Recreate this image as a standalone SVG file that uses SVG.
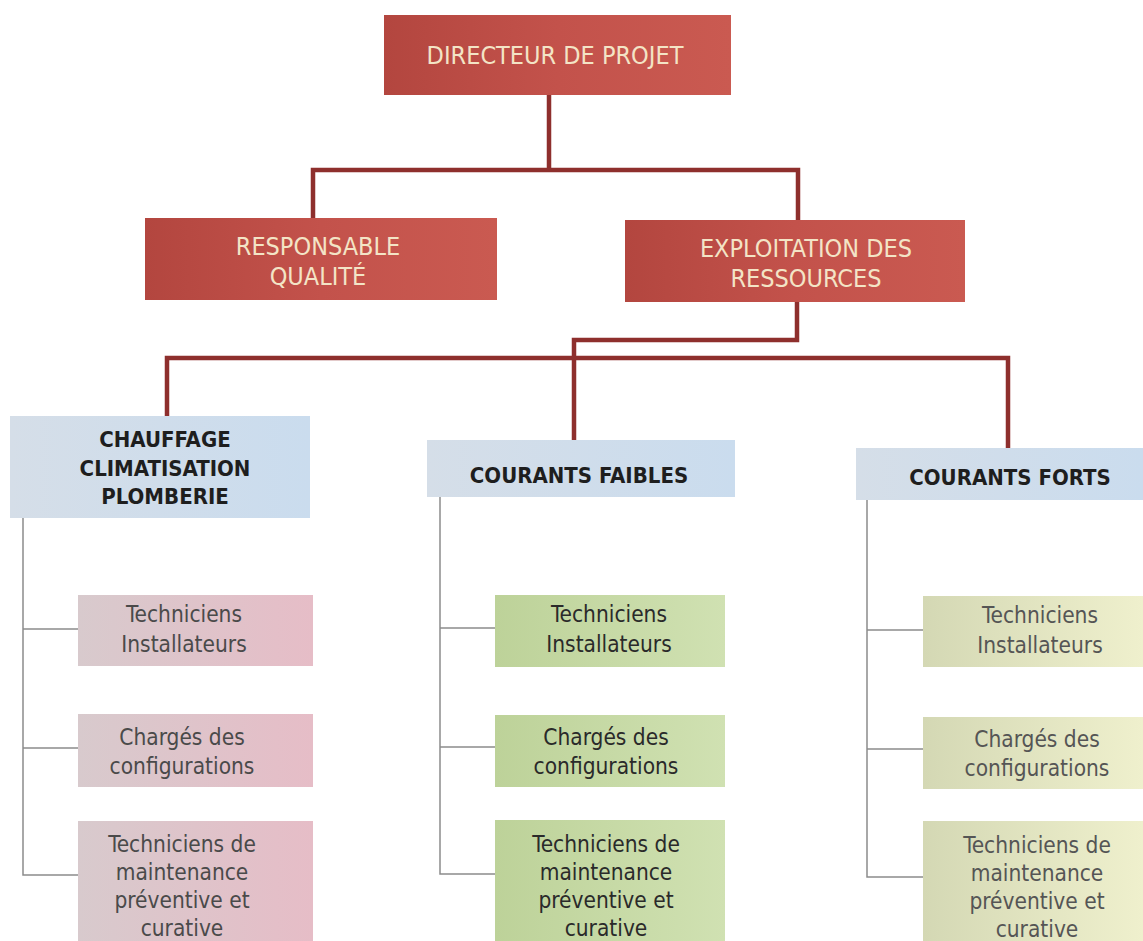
<svg xmlns="http://www.w3.org/2000/svg" width="1143" height="941" viewBox="0 0 1143 941">
<defs>
<linearGradient id="gRed" x1="0" y1="0" x2="1" y2="0"><stop offset="0" stop-color="#b3463f"/><stop offset="0.5" stop-color="#c3524b"/><stop offset="1" stop-color="#ca5a51"/></linearGradient>
<linearGradient id="gBlue" x1="0" y1="0" x2="1" y2="0"><stop offset="0" stop-color="#d5dee8"/><stop offset="1" stop-color="#cadcee"/></linearGradient>
<linearGradient id="gPink" x1="0" y1="0" x2="1" y2="0"><stop offset="0" stop-color="#d8cacd"/><stop offset="1" stop-color="#e6bdc7"/></linearGradient>
<linearGradient id="gGreen" x1="0" y1="0" x2="1" y2="0"><stop offset="0" stop-color="#bdd299"/><stop offset="1" stop-color="#d0e1b2"/></linearGradient>
<linearGradient id="gYellow" x1="0" y1="0" x2="1" y2="0"><stop offset="0" stop-color="#d4d8b4"/><stop offset="1" stop-color="#eff0cd"/></linearGradient>
</defs>
<style>
.red{fill:url(#gRed)}
.blue{fill:url(#gBlue)}
.pink{fill:url(#gPink)}
.green{fill:url(#gGreen)}
.yellow{fill:url(#gYellow)}
.rt{font-family:"DejaVu Sans Condensed","DejaVu Sans",sans-serif;font-size:25px;fill:#f3e4c6;text-anchor:middle}
.bt{font-family:"DejaVu Sans Condensed","DejaVu Sans",sans-serif;font-size:22px;font-weight:bold;fill:#1e1e1e;text-anchor:middle}
.st{font-family:"DejaVu Sans Condensed","DejaVu Sans",sans-serif;font-size:22.5px;fill:#4a4a4a;text-anchor:middle}
.st2{font-family:"DejaVu Sans Condensed","DejaVu Sans",sans-serif;font-size:22.5px;fill:#2a2a2a;text-anchor:middle}
.st3{font-family:"DejaVu Sans Condensed","DejaVu Sans",sans-serif;font-size:22.5px;fill:#555555;text-anchor:middle}
.c1{fill:none;stroke:#8e2f2d;stroke-width:4.5}
.c2{fill:none;stroke:#8c8c8c;stroke-width:1.5}
</style>
<rect width="1143" height="941" fill="#ffffff"/>
<g id="connectors">
<path class="c1" d="M549 95 V170 M313 218 V170 H798 V220"/>
<path class="c1" d="M797 302 V340 H574 V440 M167 416 V358 H1008 V448"/>
<path class="c2" d="M23 518 V875 H78 M23 629 H78 M23 748 H78"/>
<path class="c2" d="M440 497 V874 H495 M440 628 H495 M440 747 H495"/>
<path class="c2" d="M867 500 V877 H923 M867 630 H923 M867 749 H923"/>
</g>
<g id="directeur"><rect class="red" x="384" y="15" width="347" height="80"/><text class="rt" x="555" y="64">DIRECTEUR DE PROJET</text></g>
<g id="qualite"><rect class="red" x="145" y="218" width="352" height="82"/><text class="rt" x="318" y="255">RESPONSABLE</text><text class="rt" x="318" y="285">QUALITÉ</text></g>
<g id="exploitation"><rect class="red" x="625" y="220" width="340" height="82"/><text class="rt" x="806" y="257">EXPLOITATION DES</text><text class="rt" x="806" y="287">RESSOURCES</text></g>
<g id="chauffage"><rect class="blue" x="10" y="416" width="300" height="102"/><text class="bt" x="165" y="447">CHAUFFAGE</text><text class="bt" x="165" y="476">CLIMATISATION</text><text class="bt" x="165" y="504">PLOMBERIE</text></g>
<g id="faibles"><rect class="blue" x="427" y="440" width="308" height="57"/><text class="bt" x="579" y="483">COURANTS FAIBLES</text></g>
<g id="forts"><rect class="blue" x="856" y="448" width="287" height="52"/><text class="bt" x="1010" y="485">COURANTS FORTS</text></g>
<g id="p1"><rect class="pink" x="78" y="595" width="235" height="71"/><text class="st" x="184" y="622">Techniciens</text><text class="st" x="184" y="652">Installateurs</text></g>
<g id="p2"><rect class="pink" x="78" y="714" width="235" height="73"/><text class="st" x="182" y="745">Chargés des</text><text class="st" x="182" y="774">configurations</text></g>
<g id="p3"><rect class="pink" x="78" y="821" width="235" height="120"/><text class="st" x="182" y="852">Techniciens de</text><text class="st" x="182" y="880">maintenance</text><text class="st" x="182" y="908">préventive et</text><text class="st" x="182" y="936">curative</text></g>
<g id="g1"><rect class="green" x="495" y="595" width="230" height="72"/><text class="st2" x="609" y="622">Techniciens</text><text class="st2" x="609" y="652">Installateurs</text></g>
<g id="g2"><rect class="green" x="495" y="715" width="230" height="72"/><text class="st2" x="606" y="745">Chargés des</text><text class="st2" x="606" y="774">configurations</text></g>
<g id="g3"><rect class="green" x="495" y="820" width="230" height="121"/><text class="st2" x="606" y="852">Techniciens de</text><text class="st2" x="606" y="880">maintenance</text><text class="st2" x="606" y="908">préventive et</text><text class="st2" x="606" y="936">curative</text></g>
<g id="y1"><rect class="yellow" x="923" y="596" width="220" height="71"/><text class="st3" x="1040" y="623">Techniciens</text><text class="st3" x="1040" y="653">Installateurs</text></g>
<g id="y2"><rect class="yellow" x="923" y="717" width="220" height="72"/><text class="st3" x="1037" y="747">Chargés des</text><text class="st3" x="1037" y="776">configurations</text></g>
<g id="y3"><rect class="yellow" x="923" y="821" width="220" height="120"/><text class="st3" x="1037" y="853">Techniciens de</text><text class="st3" x="1037" y="881">maintenance</text><text class="st3" x="1037" y="909">préventive et</text><text class="st3" x="1037" y="937">curative</text></g>
</svg>
